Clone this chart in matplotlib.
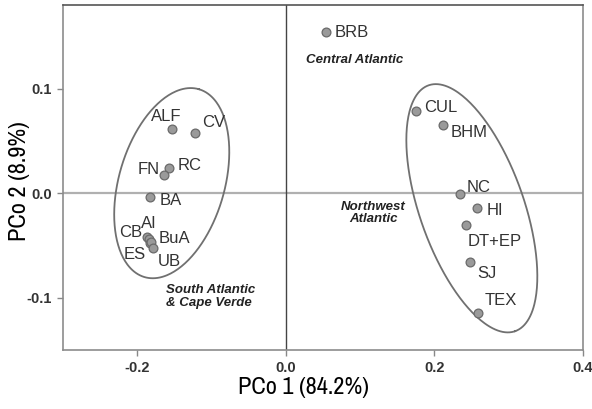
import numpy as np
import matplotlib
matplotlib.use("Agg")
import matplotlib.pyplot as plt

# PCo scores
sites = ["BRB", "CUL", "BHM", "NC", "HI", "DT+EP", "SJ", "TEX",
         "ALF", "CV", "RC", "FN", "BA", "CB", "AI", "ES", "BuA", "UB"]
pco1 = [0.054, 0.175, 0.211, 0.234, 0.257, 0.243, 0.248, 0.258,
        -0.153, -0.122, -0.157, -0.164, -0.183, -0.187, -0.184, -0.183, -0.181, -0.178]
pco2 = [0.154, 0.079, 0.065, -0.001, -0.014, -0.030, -0.066, -0.115,
        0.061, 0.058, 0.024, 0.017, -0.004, -0.042, -0.044, -0.048, -0.047, -0.052]

# label offsets in points (dx, dy, ha)
label_pos = {
    "BRB": (6, 0, "left"), "CUL": (6, 2, "left"), "BHM": (6, -5, "left"),
    "NC": (5, 5, "left"), "HI": (7, -2, "left"), "DT+EP": (1, -12, "left"),
    "SJ": (5, -8, "left"), "TEX": (5, 9, "left"), "ALF": (-4, 9, "center"),
    "CV": (5, 7, "left"), "RC": (6, 2, "left"), "FN": (-3, 4, "right"),
    "BA": (7, -2, "left"), "CB": (-3, 3, "right"), "AI": (0, 11, "center"),
    "ES": (-3, -8, "right"), "BuA": (5, 3, "left"), "UB": (3, -10, "left"),
}

groups = ["Central Atlantic", "Northwest\nAtlantic", "South Atlantic\n& Cape Verde"]
group_x = [0.027, 0.118, -0.1615]
group_y = [0.127, -0.019, -0.0986]
group_ha = ["left", "center", "left"]

fig = plt.figure(figsize=(5.92, 4.09), dpi=100)
ax = fig.add_axes([0.106, 0.144, 0.879, 0.844])
ax.set_xlim(-0.3, 0.4)
ax.set_ylim(-0.15, 0.18)

ax.axhline(0, color="#b0b0b0", lw=1.6, zorder=1)
ax.axvline(0, color="#444444", lw=1.0, zorder=1)

# group ellipses, semi axes given in pixels then scaled to data units
sx, sy = 743.0, 1045.0
def draw_ellipse(cx, cy, a, b, ang):
    t = np.linspace(0, 2 * np.pi, 300)
    th = np.deg2rad(ang)
    ex = cx + (a * np.cos(t) * np.cos(th) - b * np.sin(t) * np.sin(th)) / sx
    ey = cy + (a * np.cos(t) * np.sin(th) + b * np.sin(t) * np.cos(th)) / sy
    ax.plot(ex, ey, color="#707070", lw=1.3, zorder=2)

draw_ellipse(-0.1534, 0.0096, 97.7, 52.8, 73.9)
draw_ellipse(0.2503, -0.0144, 130.2, 52.1, -70.6)

ax.scatter(pco1, pco2, s=40, color="#9a9a9a", edgecolor="#6a6a6a", lw=0.9, zorder=3)

for name, x, y in zip(sites, pco1, pco2):
    dx, dy, ha = label_pos[name]
    ax.annotate(name, (x, y), xytext=(dx, dy), textcoords="offset points",
                ha=ha, va="center", fontsize=12, color="#333333",
                family="Liberation Sans", zorder=4)

for txt, x, y, ha in zip(groups, group_x, group_y, group_ha):
    ax.text(x, y, txt, ha=ha, va="center", fontsize=9.5, fontweight="bold",
            fontstyle="italic", color="#222222", family="Liberation Sans",
            linespacing=1.05)

ax.set_xticks([-0.2, 0.0, 0.2, 0.4])
ax.set_xticklabels(["-0.2", "0.0", "0.2", "0.4"])
ax.set_yticks([-0.1, 0.0, 0.1])
ax.set_yticklabels(["-0.1", "0.0", "0.1"])
ax.tick_params(length=4, width=1, color="#888888", labelsize=10.5, pad=4)
for lab in ax.get_xticklabels() + ax.get_yticklabels():
    lab.set_fontweight("bold")
    lab.set_family("Liberation Sans")
    lab.set_color("#333333")

for sp in ax.spines.values():
    sp.set_color("#8c8c8c")
    sp.set_linewidth(1.2)
ax.spines["top"].set_color("#555555")

narrow = ["Archivo Narrow", "Liberation Sans"]
ax.set_xlabel("PCo 1 (84.2%)", fontsize=17.5, family=narrow)
ax.set_ylabel("PCo 2 (8.9%)", fontsize=17.5, family=narrow)
ax.xaxis.set_label_coords(0.463, -0.108)
ax.yaxis.set_label_coords(-0.083, 0.49)
ax.yaxis.label.set_va("center")
ax.xaxis.label.set_va("center")

fig.savefig("out.png", dpi=100)
